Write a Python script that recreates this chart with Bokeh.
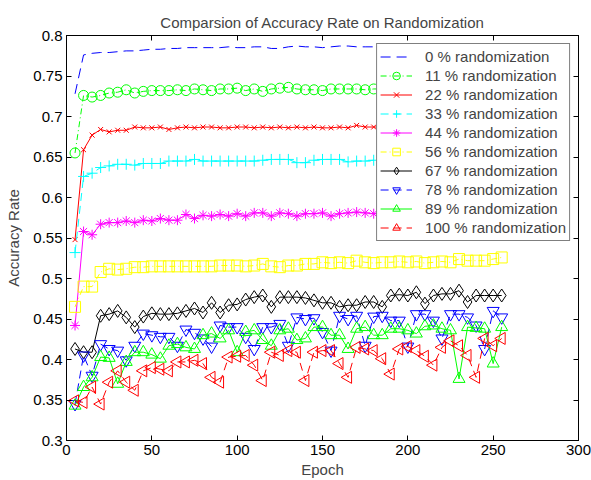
import math
from bokeh.plotting import figure
from bokeh.models import (Legend, LegendItem, FixedTicker, LinearAxis, Range1d,
                          CustomJSTickFormatter)
from bokeh.embed import file_html
from bokeh.resources import INLINE

epochs = [5, 10, 15, 20, 25, 30, 35, 40, 45, 50,
          55, 60, 65, 70, 75, 80, 85, 90, 95, 100,
          105, 110, 115, 120, 125, 130, 135, 140, 145, 150,
          155, 160, 165, 170, 175, 180, 185, 190, 195, 200,
          205, 210, 215, 220, 225, 230, 235, 240, 245, 250,
          255]

r0 = [0.728, 0.776, 0.778, 0.779, 0.779, 0.780, 0.781, 0.781, 0.782, 0.783,
      0.783, 0.784, 0.784, 0.785, 0.785, 0.785, 0.785, 0.785, 0.786, 0.785,
      0.785, 0.786, 0.786, 0.784, 0.784, 0.786, 0.787, 0.786, 0.786, 0.785,
      0.786, 0.787, 0.787, 0.786, 0.786, 0.786, 0.787, 0.786, 0.787, 0.786,
      0.786, 0.787, 0.786, 0.787, 0.786, 0.787, 0.786, 0.787, 0.786, 0.787,
      0.786]
r11 = [0.655, 0.726, 0.724, 0.726, 0.729, 0.730, 0.733, 0.729, 0.731, 0.732,
       0.732, 0.732, 0.733, 0.732, 0.734, 0.733, 0.732, 0.734, 0.734, 0.735,
       0.732, 0.734, 0.731, 0.734, 0.735, 0.736, 0.734, 0.733, 0.733, 0.732,
       0.734, 0.734, 0.734, 0.734, 0.733, 0.734, 0.734, 0.733, 0.734, 0.734,
       0.734, 0.734, 0.734, 0.734, 0.733, 0.734, 0.734, 0.734, 0.734, 0.733,
       0.733]
r22 = [0.548, 0.659, 0.677, 0.684, 0.681, 0.683, 0.683, 0.687, 0.686, 0.686,
       0.687, 0.684, 0.686, 0.687, 0.686, 0.687, 0.687, 0.686, 0.686, 0.687,
       0.687, 0.686, 0.687, 0.686, 0.687, 0.686, 0.687, 0.686, 0.687, 0.686,
       0.686, 0.687, 0.686, 0.689, 0.687, 0.687, 0.687, 0.686, 0.687, 0.687,
       0.687, 0.687, 0.688, 0.687, 0.687, 0.688, 0.687, 0.687, 0.688, 0.687,
       0.688]
r33 = [0.532, 0.626, 0.630, 0.637, 0.639, 0.641, 0.641, 0.640, 0.642, 0.642,
       0.642, 0.645, 0.645, 0.645, 0.647, 0.645, 0.645, 0.645, 0.645, 0.645,
       0.645, 0.645, 0.646, 0.647, 0.647, 0.647, 0.643, 0.643, 0.646, 0.647,
       0.647, 0.647, 0.644, 0.645, 0.645, 0.646, 0.647, 0.646, 0.647, 0.647,
       0.646, 0.647, 0.648, 0.647, 0.647, 0.648, 0.647, 0.647, 0.648, 0.647,
       0.648]
r44 = [0.442, 0.558, 0.554, 0.567, 0.569, 0.569, 0.571, 0.569, 0.572, 0.571,
       0.574, 0.572, 0.572, 0.579, 0.574, 0.578, 0.577, 0.579, 0.577, 0.580,
       0.577, 0.581, 0.581, 0.577, 0.581, 0.580, 0.577, 0.580, 0.580, 0.581,
       0.577, 0.580, 0.581, 0.582, 0.581, 0.580, 0.581, 0.580, 0.581, 0.581,
       0.580, 0.581, 0.581, 0.580, 0.581, 0.581, 0.580, 0.581, 0.581, 0.580,
       0.581]
r56 = [0.465, 0.490, 0.490, 0.508, 0.512, 0.511, 0.512, 0.514, 0.514, 0.515,
       0.515, 0.515, 0.515, 0.515, 0.515, 0.515, 0.515, 0.516, 0.516, 0.516,
       0.515, 0.516, 0.518, 0.515, 0.514, 0.516, 0.516, 0.518, 0.518, 0.520,
       0.519, 0.520, 0.519, 0.522, 0.520, 0.519, 0.520, 0.520, 0.521, 0.520,
       0.521, 0.519, 0.520, 0.521, 0.520, 0.524, 0.522, 0.522, 0.522, 0.524,
       0.526]
r67 = [0.413, 0.409, 0.409, 0.454, 0.456, 0.460, 0.452, 0.440, 0.453, 0.457,
       0.456, 0.456, 0.457, 0.460, 0.463, 0.458, 0.470, 0.458, 0.467, 0.468,
       0.474, 0.477, 0.479, 0.465, 0.477, 0.477, 0.477, 0.476, 0.473, 0.470,
       0.470, 0.465, 0.467, 0.467, 0.471, 0.471, 0.465, 0.479, 0.480, 0.479,
       0.483, 0.469, 0.479, 0.481, 0.481, 0.485, 0.471, 0.479, 0.479, 0.479,
       0.479]
r78 = [0.345, 0.405, 0.380, 0.419, 0.413, 0.411, 0.399, 0.417, 0.432, 0.430,
       0.428, 0.428, 0.417, 0.437, 0.433, 0.426, 0.416, 0.442, 0.440, 0.440,
       0.428, 0.413, 0.440, 0.440, 0.444, 0.417, 0.452, 0.450, 0.451, 0.434,
       0.411, 0.454, 0.450, 0.454, 0.417, 0.453, 0.454, 0.448, 0.448, 0.416,
       0.456, 0.456, 0.448, 0.426, 0.456, 0.456, 0.452, 0.442, 0.413, 0.460,
       0.452]
r89 = [0.343, 0.366, 0.378, 0.403, 0.402, 0.370, 0.397, 0.409, 0.409, 0.406,
       0.401, 0.417, 0.419, 0.415, 0.413, 0.430, 0.432, 0.426, 0.436, 0.409,
       0.434, 0.436, 0.424, 0.417, 0.436, 0.438, 0.424, 0.426, 0.440, 0.440,
       0.430, 0.430, 0.413, 0.438, 0.440, 0.430, 0.430, 0.438, 0.438, 0.436,
       0.432, 0.441, 0.442, 0.438, 0.436, 0.376, 0.440, 0.439, 0.438, 0.395,
       0.440]
r100 = [0.349, 0.347, 0.366, 0.345, 0.372, 0.386, 0.372, 0.362, 0.386, 0.390,
        0.388, 0.386, 0.397, 0.397, 0.399, 0.395, 0.378, 0.372, 0.403, 0.404,
        0.405, 0.393, 0.374, 0.409, 0.405, 0.411, 0.409, 0.374, 0.409, 0.411,
        0.411, 0.395, 0.378, 0.415, 0.413, 0.411, 0.401, 0.382, 0.413, 0.416,
        0.411, 0.404, 0.393, 0.415, 0.423, 0.417, 0.405, 0.378, 0.426, 0.417,
        0.426]

labels = ["0 % randomization", "11 % randomization", "22 % randomization",
          "33 % randomization", "44 % randomization", "56 % randomization",
          "67 % randomization", "78 % randomization", "89 % randomization",
          "100 % randomization"]
series = [r0, r11, r22, r33, r44, r56, r67, r78, r89, r100]

x_ticks = [0, 50, 100, 150, 200, 250, 300]
y_ticks = [0.3, 0.35, 0.4, 0.45, 0.5, 0.55, 0.6, 0.65, 0.7, 0.75, 0.8]

# style: (color, dash, marker, marker size, angle)
styles = [
    ("#0000FF", "10 6", None, 0, 0),
    ("#00FF00", "6 3 1 3", "circle", 10, 0),
    ("#FF0000", "solid", "x", 7, 0),
    ("#00FFFF", "8 5", "cross", 11, 0),
    ("#FF00FF", "solid", "asterisk", 10, 0),
    ("#FFFF00", "6 3 1 3", "square", 11, 0),
    ("#000000", "solid", "diamond", 13, 0),
    ("#0000FF", "8 5", "inverted_triangle", 12, 0),
    ("#00FF00", "solid", "triangle", 12, 0),
    ("#FF0000", "8 5", "triangle", 12, math.pi / 2),
]

FONT = "Liberation Sans"

p = figure(width=591, height=480, x_range=Range1d(0, 300), y_range=Range1d(0.3, 0.8),
           output_backend="svg", toolbar_location=None,
           min_border_left=66, min_border_right=13, min_border_top=35, min_border_bottom=40)
p.title.text = "Comparsion of Accuracy Rate on Randomization"
p.title.align = "center"
p.title.text_font = FONT
p.title.text_font_size = "15px"
p.title.text_font_style = "normal"
p.grid.visible = False
p.outline_line_color = "black"
p.background_fill_color = "white"

fmt = CustomJSTickFormatter(code="return String(Math.round(tick*100)/100);")
blank = CustomJSTickFormatter(code="return '';")

for ax, ticks in ((p.xaxis[0], x_ticks), (p.yaxis[0], y_ticks)):
    ax.ticker = FixedTicker(ticks=ticks)
    ax.major_tick_in = 5
    ax.major_tick_out = 0
    ax.minor_tick_in = 0
    ax.minor_tick_out = 0
    ax.axis_line_color = "black"
    ax.major_tick_line_color = "black"
    ax.major_label_text_font = FONT
    ax.major_label_text_font_size = "15px"
    ax.major_label_text_color = "black"
    ax.axis_label_text_font = FONT
    ax.axis_label_text_font_size = "15px"
    ax.axis_label_text_font_style = "normal"
    ax.formatter = fmt
    ax.major_label_standoff = 4
p.xaxis[0].axis_label = "Epoch"
p.yaxis[0].axis_label = "Accuracy Rate"
p.xaxis[0].axis_label_standoff = 3
p.yaxis[0].axis_label_standoff = 8

for side, ticks in (("right", y_ticks), ("above", x_ticks)):
    a = LinearAxis(ticker=FixedTicker(ticks=ticks), major_tick_in=5, major_tick_out=0,
                   minor_tick_in=0, minor_tick_out=0, formatter=blank,
                   major_label_standoff=0, axis_line_color="black")
    p.add_layout(a, side)

items = []
for lab, ys, (col, dash, mk, sz, ang) in zip(labels, series, styles):
    rends = [p.line(epochs, ys, line_color=col, line_width=1, line_dash=dash)]
    if mk is not None:
        rends.append(p.scatter(epochs, ys, marker=mk, size=sz, angle=ang,
                               line_color=col, fill_color=None, line_width=1))
    items.append(LegendItem(label=lab, renderers=rends))

legend = Legend(items=items, location="top_right")
legend.margin = 8
legend.padding = 3
legend.spacing = 0
legend.label_height = 19
legend.glyph_height = 19
legend.glyph_width = 32
legend.label_standoff = 13
legend.label_text_font = FONT
legend.label_text_font_size = "15px"
legend.border_line_color = "black"
legend.border_line_width = 1
legend.background_fill_alpha = 1
p.add_layout(legend)

open("out.html", "w").write(file_html(p, INLINE))
